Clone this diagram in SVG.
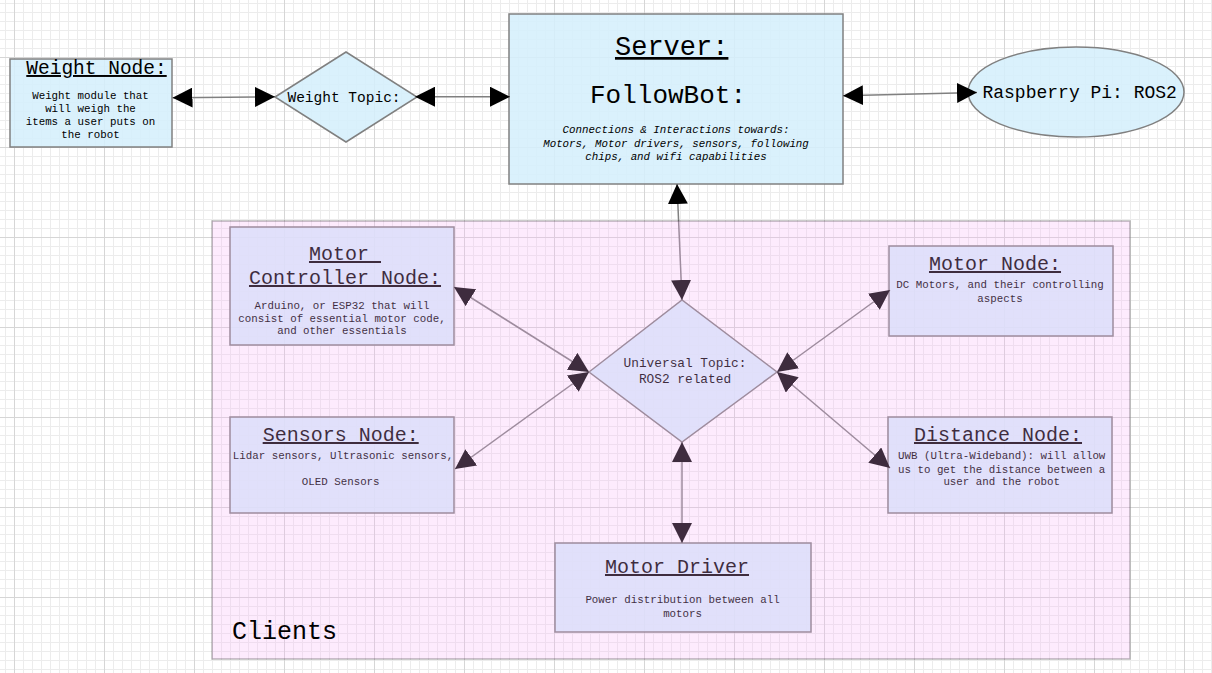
<svg xmlns="http://www.w3.org/2000/svg" width="1212" height="673" viewBox="0 0 1212 673">
<defs>
<pattern id="minor" width="9" height="9" patternUnits="userSpaceOnUse" x="14" y="57"><path d="M0.5 0V9M0 0.5H9" fill="none" stroke="#ececec" stroke-width="1"/></pattern>
<pattern id="major" width="90" height="90" patternUnits="userSpaceOnUse" x="14" y="57"><path d="M0.5 0V90M0 0.5H90" fill="none" stroke="#d6d6d6" stroke-width="1"/></pattern>
<marker id="ah" viewBox="0 0 20 20" refX="20" refY="10" markerWidth="20" markerHeight="20" markerUnits="userSpaceOnUse" orient="auto-start-reverse"><path d="M0 0L20 10L0 20Z" fill="#000"/></marker>
</defs>
<style>
text{font-family:"Liberation Mono","DejaVu Sans Mono",monospace;fill:#000}
.box{fill:#d5effc;fill-opacity:0.88;stroke:#808080;stroke-width:1.5}
.t{font-size:20px;text-anchor:middle;text-decoration:underline}
.b{font-size:10.8px;text-anchor:middle}
.i{font-size:10.8px;text-anchor:middle;font-style:italic}
.e{fill:none;stroke:#808080;stroke-width:1.5;marker-start:url(#ah);marker-end:url(#ah)}
</style>
<rect width="1212" height="673" fill="#fff"/>
<rect width="1212" height="673" fill="url(#minor)"/>
<rect width="1212" height="673" fill="url(#major)"/>

<g id="weight-node">
<rect class="box" x="10" y="59" width="162" height="88"/>
<text class="t" x="96.5" y="74" style="font-size:19.5px">Weight Node:</text>
<text class="b" x="90.5" y="98.7">Weight module that</text>
<text class="b" x="90.5" y="111.7">will weigh the</text>
<text class="b" x="90.5" y="124.7">items a user puts on</text>
<text class="b" x="90.5" y="137.7">the robot</text>
</g>

<g id="weight-topic">
<polygon class="box" points="275,97 346,52 417,97 346,142"/>
<text x="344" y="101.7" style="font-size:14.5px;text-anchor:middle">Weight Topic:</text>
</g>

<g id="server">
<rect class="box" x="509" y="14" width="334" height="170"/>
<text x="671.7" y="55" style="font-size:27px;text-anchor:middle;text-decoration:underline">Server:</text>
<text x="668" y="103.3" style="font-size:26px;text-anchor:middle">FollowBot:</text>
<text class="i" x="676" y="133.3">Connections &amp; Interactions towards:</text>
<text class="i" x="676" y="146.7">Motors, Motor drivers, sensors, following</text>
<text class="i" x="676" y="159.5">chips, and wifi capabilities</text>
</g>

<g id="raspberry-pi">
<ellipse class="box" cx="1076" cy="92" rx="108" ry="45"/>
<text x="1079.7" y="98" style="font-size:18px;text-anchor:middle">Raspberry Pi: ROS2</text>
</g>

<g id="motor-controller-node">
<rect class="box" x="230" y="227" width="224" height="118"/>
<text class="t" x="345" y="260" xml:space="preserve">Motor </text>
<text class="t" x="345" y="284">Controller Node:</text>
<text class="b" x="342" y="309">Arduino, or ESP32 that will</text>
<text class="b" x="342" y="321.7">consist of essential motor code,</text>
<text class="b" x="342" y="334.4">and other essentials</text>
</g>

<g id="motor-node">
<rect class="box" x="889" y="246" width="224" height="90"/>
<text class="t" x="995" y="270">Motor Node:</text>
<text class="b" x="1000" y="288">DC Motors, and their controlling</text>
<text class="b" x="1000" y="301.7">aspects</text>
</g>

<g id="universal-topic">
<polygon class="box" points="589,372 682,300 777,372 682,442"/>
<text class="b" x="685" y="367" style="font-size:12.8px">Universal Topic:</text>
<text class="b" x="685" y="383" style="font-size:12.8px">ROS2 related</text>
</g>

<g id="sensors-node">
<rect class="box" x="230" y="417" width="224" height="96"/>
<text class="t" x="340.7" y="441">Sensors Node:</text>
<text class="b" x="343" y="459">Lidar sensors, Ultrasonic sensors,</text>
<text class="b" x="340.7" y="485">OLED Sensors</text>
</g>

<g id="distance-node">
<rect class="box" x="888" y="417" width="224" height="96"/>
<text class="t" x="998" y="441">Distance Node:</text>
<text class="b" x="1001.7" y="459">UWB (Ultra-Wideband): will allow</text>
<text class="b" x="1001.7" y="472.7">us to get the distance between a</text>
<text class="b" x="1001.7" y="485.4">user and the robot</text>
</g>

<g id="motor-driver">
<rect class="box" x="555" y="543" width="256" height="89"/>
<text class="t" x="677" y="573">Motor Driver</text>
<text class="b" x="682.6" y="603">Power distribution between all</text>
<text class="b" x="682.6" y="616.7">motors</text>
</g>

<g id="connectors">
<path class="e" d="M172.5 97.7L275 96.7"/>
<path class="e" d="M415 96.7L510 96.7"/>
<path class="e" d="M843 95.7L977 92.5"/>
<path class="e" d="M677 184L682 300"/>
<path class="e" d="M454 287L589 372"/>
<path class="e" d="M455 469L589 372"/>
<path class="e" d="M890 290L777 372"/>
<path class="e" d="M890 468L777 372"/>
<path class="e" d="M682 442L682 543"/>
</g>

<g id="clients">
<rect x="212" y="221" width="918" height="438" fill="#f7aef7" fill-opacity="0.25" stroke="#000" stroke-opacity="0.27" stroke-width="1.5"/>
<text x="232" y="639" style="font-size:25px">Clients</text>
</g>
</svg>
